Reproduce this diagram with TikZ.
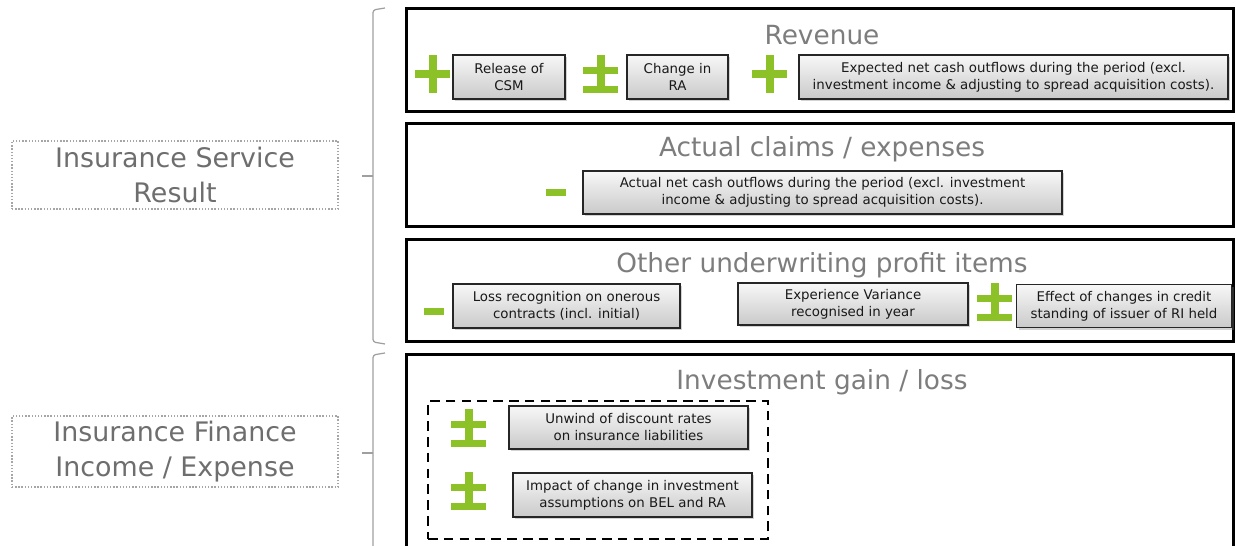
\documentclass[tikz,border=0pt]{standalone}
\usepackage{fontspec}
\setmainfont{DejaVu Sans}
\usetikzlibrary{shadows,positioning}

\definecolor{signgreen}{RGB}{140,194,40}
\definecolor{headgrey}{RGB}{125,125,125}
\definecolor{sidegrey}{RGB}{110,110,110}
\newcommand{\pxu}{0.02cm}
\newcommand{\boxfont}{\fontsize{7.6}{9.7}\selectfont}
\newcommand{\headfont}{\fontsize{15}{18}\selectfont}
\newcommand{\sidefont}{\fontsize{15.3}{19.7}\selectfont}

\tikzset{
  plussign/.pic={
    \fill[signgreen] (-17.5,-4) rectangle (17.5,4);
    \fill[signgreen] (-4,-19) rectangle (4,19);
  },
  pmsign/.pic={
    \fill[signgreen] (-17.5,-7) rectangle (17.5,0);
    \fill[signgreen] (-17.5,12) rectangle (17.5,19);
    \fill[signgreen] (-4,-19) rectangle (4,19);
  },
  minussign/.pic={
    \fill[signgreen] (-10,-3.5) rectangle (10,3.5);
  },
}

\begin{document}
\begin{tikzpicture}[x=\pxu,y=-\pxu,
    panel/.style={draw=black,line width=1.6pt,inner sep=0pt},
    paneltitle/.style={text=headgrey,font=\headfont,inner sep=0pt,anchor=base},
    itembox/.style={draw=black!85,line width=0.6pt,top color=gray!6,bottom color=gray!42,
      drop shadow={shadow xshift=1.2pt,shadow yshift=-1.2pt,opacity=0.35},
      text=black!90,font=\boxfont,align=center,inner sep=0pt},
    sidebox/.style={draw=gray!70,densely dotted,line width=0.8pt,text=sidegrey,
      font=\sidefont,align=center,inner sep=0pt},
    bracket/.style={draw=gray!75,line width=0.7pt,rounded corners=1.5pt}]
  \useasboundingbox (0,0) rectangle (1237,546);
  \clip (0,0) rectangle (1237,546);

  \node[sidebox,minimum width=326*\pxu,minimum height=68*\pxu] (isr) at (175,175) {Insurance Service\\Result};
  \node[sidebox,minimum width=326*\pxu,minimum height=71*\pxu] (ifie) at (175,451.5) {Insurance Finance\\Income / Expense};

  \draw[bracket] (385,8) -- (373,10) -- (373,342) -- (385,344);
  \draw[bracket] (373,176) -- (362,176);
  \draw[bracket] (385,353) -- (373,355) -- (373,560);
  \draw[bracket] (373,453) -- (362,453);

  \node[panel,minimum width=827*\pxu,minimum height=103*\pxu] (revpanel) at (820,60) {};
  \node[panel,minimum width=827*\pxu,minimum height=103*\pxu] (claimpanel) at (820,175) {};
  \node[panel,minimum width=827*\pxu,minimum height=102*\pxu] (otherpanel) at (820,290.5) {};
  \node[panel,minimum width=827*\pxu,minimum height=251*\pxu] (invpanel) at (820,480) {};

  \node[paneltitle] (revtitle) at (822,45) {Revenue};
  \node[paneltitle] (claimtitle) at (822,157) {Actual claims / expenses};
  \node[paneltitle] (othertitle) at (822,273) {Other underwriting profit items};
  \node[paneltitle] (invtitle) at (822,390) {Investment gain / loss};

  \node[draw=black,dashed,dash pattern=on 5.5pt off 3.5pt,line width=1.3pt,
    minimum width=340*\pxu,minimum height=138*\pxu] (dashframe) at (598,470) {};

  \node[itembox,minimum width=112*\pxu,minimum height=44*\pxu] (csm) at (509,77) {Release of\\CSM};
  \node[itembox,minimum width=101*\pxu,minimum height=44*\pxu] (ra) at (677.5,77) {Change in\\RA};
  \node[itembox,minimum width=429*\pxu,minimum height=44*\pxu] (expected) at (1013.5,77)
    {Expected net cash outflows during the period (excl.\\investment income \& adjusting to spread acquisition costs).};
  \node[itembox,minimum width=479*\pxu,minimum height=43*\pxu] (actual) at (822.5,192.5)
    {Actual net cash outflows during the period (excl. investment\\income \& adjusting to spread acquisition costs).};
  \node[itembox,minimum width=227*\pxu,minimum height=44*\pxu] (loss) at (566.5,306)
    {Loss recognition on onerous\\contracts (incl. initial)};
  \node[itembox,minimum width=230*\pxu,minimum height=42*\pxu] (experience) at (853,304)
    {Experience Variance\\recognised in year};
  \node[itembox,minimum width=215*\pxu,minimum height=43*\pxu] (credit) at (1124,306)
    {Effect of changes in credit\\standing of issuer of RI held};
  \node[itembox,minimum width=239*\pxu,minimum height=43*\pxu] (unwind) at (628.5,427.5)
    {Unwind of discount rates\\on insurance liabilities};
  \node[itembox,minimum width=239*\pxu,minimum height=44*\pxu] (impact) at (632.5,495)
    {Impact of change in investment\\assumptions on BEL and RA};

  \pic (plusA) at (432.5,74.5) {plussign};
  \pic (pmA) at (600.5,74.5) {pmsign};
  \pic (plusB) at (769.5,74.5) {plussign};
  \pic (minusA) at (556,192.5) {minussign};
  \pic (minusB) at (434,312) {minussign};
  \pic (pmB) at (994.5,302.5) {pmsign};
  \pic (pmC) at (468.5,428) {pmsign};
  \pic (pmD) at (468.5,491.5) {pmsign};
\end{tikzpicture}
\end{document}
